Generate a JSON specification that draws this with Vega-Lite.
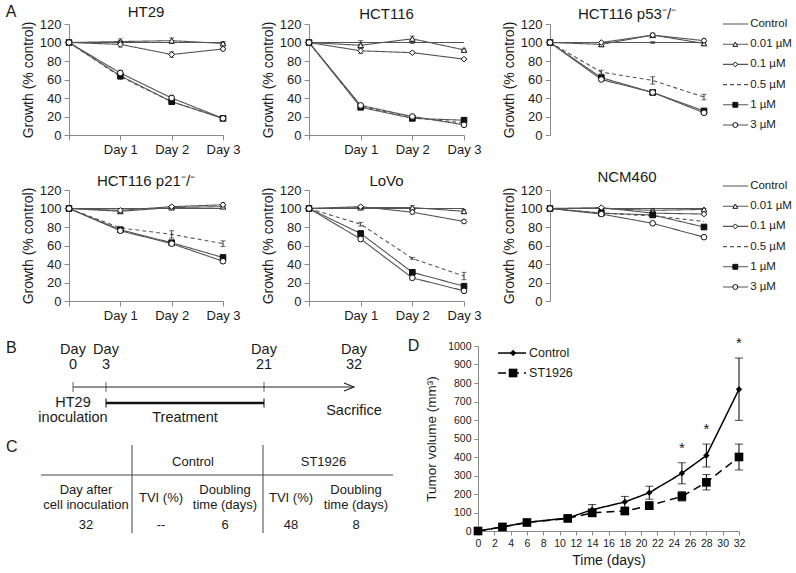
{
"$schema":"https://vega.github.io/schema/vega-lite/v6.json",
"padding":{"left":5,"right":5,"top":3,"bottom":5},
"spacing":14,
"resolve":{"scale":{"shape":"independent","fill":"independent","strokeDash":"independent","size":"independent"}},
"config":{
 "font":"Liberation Sans",
 "view":{"stroke":null},
 "axis":{"grid":false,"domainColor":"#8a8a8a","tickColor":"#8a8a8a","labelColor":"#1a1a1a","titleColor":"#1a1a1a","titleFontWeight":"normal","labelFlush":false,"labelOverlap":false},
 "title":{"fontWeight":"normal","color":"#1a1a1a","fontSize":15},
 "text":{"color":"#1a1a1a"}
},
"datasets":{
 "series":[{"series":"Control"},{"series":"0.01 µM"},{"series":"0.1 µM"},{"series":"0.5 µM"},{"series":"1 µM"},{"series":"3 µM"}],
 "growth":[
  {"cell":"HT29","series":"Control","day":0,"value":100},{"cell":"HT29","series":"Control","day":1,"value":100,"err":2},{"cell":"HT29","series":"Control","day":2,"value":100},{"cell":"HT29","series":"Control","day":3,"value":100,"err":1},
  {"cell":"HT29","series":"0.01 µM","day":0,"value":100},{"cell":"HT29","series":"0.01 µM","day":1,"value":101,"err":3},{"cell":"HT29","series":"0.01 µM","day":2,"value":102,"err":3},{"cell":"HT29","series":"0.01 µM","day":3,"value":99,"err":1},
  {"cell":"HT29","series":"0.1 µM","day":0,"value":100},{"cell":"HT29","series":"0.1 µM","day":1,"value":98,"err":3},{"cell":"HT29","series":"0.1 µM","day":2,"value":87,"err":3},{"cell":"HT29","series":"0.1 µM","day":3,"value":93,"err":2},
  {"cell":"HT29","series":"0.5 µM","day":0,"value":100},{"cell":"HT29","series":"0.5 µM","day":1,"value":63},{"cell":"HT29","series":"0.5 µM","day":2,"value":36},{"cell":"HT29","series":"0.5 µM","day":3,"value":18},
  {"cell":"HT29","series":"1 µM","day":0,"value":100},{"cell":"HT29","series":"1 µM","day":1,"value":64,"err":4},{"cell":"HT29","series":"1 µM","day":2,"value":36,"err":3},{"cell":"HT29","series":"1 µM","day":3,"value":18,"err":1},
  {"cell":"HT29","series":"3 µM","day":0,"value":100},{"cell":"HT29","series":"3 µM","day":1,"value":67,"err":3},{"cell":"HT29","series":"3 µM","day":2,"value":40,"err":3},{"cell":"HT29","series":"3 µM","day":3,"value":18,"err":1},

  {"cell":"HCT116","series":"Control","day":0,"value":100},{"cell":"HCT116","series":"Control","day":1,"value":100,"err":2},{"cell":"HCT116","series":"Control","day":2,"value":100,"err":1},{"cell":"HCT116","series":"Control","day":3,"value":100},
  {"cell":"HCT116","series":"0.01 µM","day":0,"value":100},{"cell":"HCT116","series":"0.01 µM","day":1,"value":97,"err":3},{"cell":"HCT116","series":"0.01 µM","day":2,"value":104,"err":3},{"cell":"HCT116","series":"0.01 µM","day":3,"value":92,"err":1},
  {"cell":"HCT116","series":"0.1 µM","day":0,"value":100},{"cell":"HCT116","series":"0.1 µM","day":1,"value":91,"err":3},{"cell":"HCT116","series":"0.1 µM","day":2,"value":89,"err":1},{"cell":"HCT116","series":"0.1 µM","day":3,"value":82,"err":1},
  {"cell":"HCT116","series":"0.5 µM","day":0,"value":100},{"cell":"HCT116","series":"0.5 µM","day":1,"value":31},{"cell":"HCT116","series":"0.5 µM","day":2,"value":19},{"cell":"HCT116","series":"0.5 µM","day":3,"value":13},
  {"cell":"HCT116","series":"1 µM","day":0,"value":100},{"cell":"HCT116","series":"1 µM","day":1,"value":30,"err":1},{"cell":"HCT116","series":"1 µM","day":2,"value":18,"err":1},{"cell":"HCT116","series":"1 µM","day":3,"value":16,"err":1},
  {"cell":"HCT116","series":"3 µM","day":0,"value":100},{"cell":"HCT116","series":"3 µM","day":1,"value":32,"err":1},{"cell":"HCT116","series":"3 µM","day":2,"value":20,"err":1},{"cell":"HCT116","series":"3 µM","day":3,"value":11,"err":1},

  {"cell":"HCT116 p53-/-","series":"Control","day":0,"value":100},{"cell":"HCT116 p53-/-","series":"Control","day":1,"value":100},{"cell":"HCT116 p53-/-","series":"Control","day":2,"value":100,"err":1},{"cell":"HCT116 p53-/-","series":"Control","day":3,"value":100},
  {"cell":"HCT116 p53-/-","series":"0.01 µM","day":0,"value":100},{"cell":"HCT116 p53-/-","series":"0.01 µM","day":1,"value":98,"err":2},{"cell":"HCT116 p53-/-","series":"0.01 µM","day":2,"value":108,"err":2},{"cell":"HCT116 p53-/-","series":"0.01 µM","day":3,"value":99,"err":2},
  {"cell":"HCT116 p53-/-","series":"0.1 µM","day":0,"value":100},{"cell":"HCT116 p53-/-","series":"0.1 µM","day":1,"value":100,"err":1},{"cell":"HCT116 p53-/-","series":"0.1 µM","day":2,"value":108,"err":2},{"cell":"HCT116 p53-/-","series":"0.1 µM","day":3,"value":102,"err":2},
  {"cell":"HCT116 p53-/-","series":"0.5 µM","day":0,"value":100},{"cell":"HCT116 p53-/-","series":"0.5 µM","day":1,"value":68,"err":2},{"cell":"HCT116 p53-/-","series":"0.5 µM","day":2,"value":59,"err":4},{"cell":"HCT116 p53-/-","series":"0.5 µM","day":3,"value":41,"err":3},
  {"cell":"HCT116 p53-/-","series":"1 µM","day":0,"value":100},{"cell":"HCT116 p53-/-","series":"1 µM","day":1,"value":62,"err":2},{"cell":"HCT116 p53-/-","series":"1 µM","day":2,"value":46,"err":2},{"cell":"HCT116 p53-/-","series":"1 µM","day":3,"value":26,"err":1},
  {"cell":"HCT116 p53-/-","series":"3 µM","day":0,"value":100},{"cell":"HCT116 p53-/-","series":"3 µM","day":1,"value":60,"err":1},{"cell":"HCT116 p53-/-","series":"3 µM","day":2,"value":46,"err":2},{"cell":"HCT116 p53-/-","series":"3 µM","day":3,"value":24,"err":1},

  {"cell":"HCT116 p21-/-","series":"Control","day":0,"value":100},{"cell":"HCT116 p21-/-","series":"Control","day":1,"value":100},{"cell":"HCT116 p21-/-","series":"Control","day":2,"value":100},{"cell":"HCT116 p21-/-","series":"Control","day":3,"value":100},
  {"cell":"HCT116 p21-/-","series":"0.01 µM","day":0,"value":100},{"cell":"HCT116 p21-/-","series":"0.01 µM","day":1,"value":97,"err":2},{"cell":"HCT116 p21-/-","series":"0.01 µM","day":2,"value":101,"err":2},{"cell":"HCT116 p21-/-","series":"0.01 µM","day":3,"value":102,"err":1},
  {"cell":"HCT116 p21-/-","series":"0.1 µM","day":0,"value":100},{"cell":"HCT116 p21-/-","series":"0.1 µM","day":1,"value":98,"err":2},{"cell":"HCT116 p21-/-","series":"0.1 µM","day":2,"value":102,"err":1},{"cell":"HCT116 p21-/-","series":"0.1 µM","day":3,"value":104,"err":2},
  {"cell":"HCT116 p21-/-","series":"0.5 µM","day":0,"value":100},{"cell":"HCT116 p21-/-","series":"0.5 µM","day":1,"value":79,"err":1},{"cell":"HCT116 p21-/-","series":"0.5 µM","day":2,"value":72,"err":4},{"cell":"HCT116 p21-/-","series":"0.5 µM","day":3,"value":62,"err":3},
  {"cell":"HCT116 p21-/-","series":"1 µM","day":0,"value":100},{"cell":"HCT116 p21-/-","series":"1 µM","day":1,"value":77,"err":2},{"cell":"HCT116 p21-/-","series":"1 µM","day":2,"value":63,"err":2},{"cell":"HCT116 p21-/-","series":"1 µM","day":3,"value":47,"err":3},
  {"cell":"HCT116 p21-/-","series":"3 µM","day":0,"value":100},{"cell":"HCT116 p21-/-","series":"3 µM","day":1,"value":76,"err":2},{"cell":"HCT116 p21-/-","series":"3 µM","day":2,"value":62,"err":2},{"cell":"HCT116 p21-/-","series":"3 µM","day":3,"value":43,"err":2},

  {"cell":"LoVo","series":"Control","day":0,"value":100},{"cell":"LoVo","series":"Control","day":1,"value":100},{"cell":"LoVo","series":"Control","day":2,"value":100},{"cell":"LoVo","series":"Control","day":3,"value":100},
  {"cell":"LoVo","series":"0.01 µM","day":0,"value":100},{"cell":"LoVo","series":"0.01 µM","day":1,"value":101,"err":1},{"cell":"LoVo","series":"0.01 µM","day":2,"value":101,"err":2},{"cell":"LoVo","series":"0.01 µM","day":3,"value":97,"err":2},
  {"cell":"LoVo","series":"0.1 µM","day":0,"value":100},{"cell":"LoVo","series":"0.1 µM","day":1,"value":102,"err":1},{"cell":"LoVo","series":"0.1 µM","day":2,"value":96,"err":2},{"cell":"LoVo","series":"0.1 µM","day":3,"value":86,"err":2},
  {"cell":"LoVo","series":"0.5 µM","day":0,"value":100},{"cell":"LoVo","series":"0.5 µM","day":1,"value":83,"err":2},{"cell":"LoVo","series":"0.5 µM","day":2,"value":46,"err":1},{"cell":"LoVo","series":"0.5 µM","day":3,"value":27,"err":4},
  {"cell":"LoVo","series":"1 µM","day":0,"value":100},{"cell":"LoVo","series":"1 µM","day":1,"value":73,"err":1},{"cell":"LoVo","series":"1 µM","day":2,"value":31,"err":2},{"cell":"LoVo","series":"1 µM","day":3,"value":16,"err":1},
  {"cell":"LoVo","series":"3 µM","day":0,"value":100},{"cell":"LoVo","series":"3 µM","day":1,"value":67,"err":1},{"cell":"LoVo","series":"3 µM","day":2,"value":25,"err":1},{"cell":"LoVo","series":"3 µM","day":3,"value":11,"err":1},

  {"cell":"NCM460","series":"Control","day":0,"value":100},{"cell":"NCM460","series":"Control","day":1,"value":100},{"cell":"NCM460","series":"Control","day":2,"value":100},{"cell":"NCM460","series":"Control","day":3,"value":100},
  {"cell":"NCM460","series":"0.01 µM","day":0,"value":100},{"cell":"NCM460","series":"0.01 µM","day":1,"value":100,"err":1},{"cell":"NCM460","series":"0.01 µM","day":2,"value":98,"err":1},{"cell":"NCM460","series":"0.01 µM","day":3,"value":99,"err":1},
  {"cell":"NCM460","series":"0.1 µM","day":0,"value":100},{"cell":"NCM460","series":"0.1 µM","day":1,"value":101,"err":1},{"cell":"NCM460","series":"0.1 µM","day":2,"value":95,"err":1},{"cell":"NCM460","series":"0.1 µM","day":3,"value":94,"err":1},
  {"cell":"NCM460","series":"0.5 µM","day":0,"value":100},{"cell":"NCM460","series":"0.5 µM","day":1,"value":95},{"cell":"NCM460","series":"0.5 µM","day":2,"value":92},{"cell":"NCM460","series":"0.5 µM","day":3,"value":86},
  {"cell":"NCM460","series":"1 µM","day":0,"value":100},{"cell":"NCM460","series":"1 µM","day":1,"value":95,"err":1},{"cell":"NCM460","series":"1 µM","day":2,"value":93,"err":1},{"cell":"NCM460","series":"1 µM","day":3,"value":80,"err":1},
  {"cell":"NCM460","series":"3 µM","day":0,"value":100},{"cell":"NCM460","series":"3 µM","day":1,"value":94,"err":1},{"cell":"NCM460","series":"3 µM","day":2,"value":84,"err":1},{"cell":"NCM460","series":"3 µM","day":3,"value":69,"err":1}
 ],
 "tumor":[
  {"group":"Control","day":0,"mean":0,"lo":0,"hi":0},{"group":"Control","day":3,"mean":22,"lo":18,"hi":26},{"group":"Control","day":6,"mean":47,"lo":42,"hi":52},{"group":"Control","day":11,"mean":70,"lo":64,"hi":76},{"group":"Control","day":14,"mean":115,"lo":88,"hi":143},{"group":"Control","day":18,"mean":157,"lo":128,"hi":187},{"group":"Control","day":21,"mean":207,"lo":172,"hi":242},{"group":"Control","day":25,"mean":312,"lo":255,"hi":369,"sig":true},{"group":"Control","day":28,"mean":408,"lo":346,"hi":470,"sig":true},{"group":"Control","day":32,"mean":766,"lo":598,"hi":935,"sig":true},
  {"group":"ST1926","day":0,"mean":0,"lo":0,"hi":0},{"group":"ST1926","day":3,"mean":22,"lo":18,"hi":26},{"group":"ST1926","day":6,"mean":46,"lo":41,"hi":51},{"group":"ST1926","day":11,"mean":68,"lo":62,"hi":74},{"group":"ST1926","day":14,"mean":98,"lo":86,"hi":110},{"group":"ST1926","day":18,"mean":108,"lo":98,"hi":118},{"group":"ST1926","day":21,"mean":137,"lo":117,"hi":158},{"group":"ST1926","day":25,"mean":187,"lo":162,"hi":213},{"group":"ST1926","day":28,"mean":263,"lo":222,"hi":305},{"group":"ST1926","day":32,"mean":400,"lo":330,"hi":470}
 ],
 "events":[{"day":0,"head":"Day\n0","note":"HT29\ninoculation"},{"day":3,"head":"Day\n3"},{"day":21,"head":"Day\n21"},{"day":32,"head":"Day\n32","note":"Sacrifice"}],
 "treat":[{"start":3,"end":21,"label":"Treatment"}],
 "table":[
  {"row":0,"col":1.5,"text":"Control"},{"row":0,"col":3.5,"text":"ST1926"},
  {"row":1,"col":0,"text":"Day after\ncell inoculation"},{"row":1,"col":1,"text":"TVI (%)"},{"row":1,"col":2,"text":"Doubling\ntime (days)"},{"row":1,"col":3,"text":"TVI (%)"},{"row":1,"col":4,"text":"Doubling\ntime (days)"},
  {"row":2,"col":0,"text":"32"},{"row":2,"col":1,"text":"--"},{"row":2,"col":2,"text":"6"},{"row":2,"col":3,"text":"48"},{"row":2,"col":4,"text":"8"}
 ]
},
"vconcat":[
 {"columns":3,"bounds":"flush","spacing":{"row":55,"column":86},
  "concat":[
   {"width":154,"height":111,"title":{"text":"HT29","offset":-16},
    "layer":[
     {"data":{"name":"growth"},"transform":[{"filter":"datum.cell == 'HT29'"}],
      "encoding":{
       "x":{"field":"day","type":"quantitative","scale":{"domain":[0,3],"nice":false},"axis":{"values":[0,1,2,3],"labelExpr":"datum.value == 0 ? '' : 'Day ' + datum.value","title":null,"labelFontSize":13,"tickSize":5,"labelPadding":3}},
       "y":{"field":"value","type":"quantitative","scale":{"domain":[0,120],"nice":false},"axis":{"values":[0,20,40,60,80,100,120],"title":"Growth (% control)","titleFontSize":14,"labelFontSize":13,"tickSize":5,"labelPadding":3,"titlePadding":4}}},
      "layer":[
       {"mark":{"type":"line","color":"#555555","strokeWidth":1.1},"encoding":{"strokeDash":{"field":"series","type":"nominal","scale":{"domain":["Control","0.01 µM","0.1 µM","0.5 µM","1 µM","3 µM"],"range":[[1,0],[1,0],[1,0],[4,3],[1,0],[1,0]]},"legend":null}}},
       {"transform":[{"filter":"datum.err > 0"}],"mark":{"type":"errorbar","ticks":true,"size":5,"thickness":1,"color":"#333333"},"encoding":{"yError":{"field":"err"}}},
       {"transform":[{"filter":"datum.series != 'Control' && datum.series != '0.5 µM'"}],"mark":{"type":"point","filled":true,"size":32,"stroke":"#111111","strokeWidth":1,"opacity":1},"encoding":{"shape":{"field":"series","type":"nominal","scale":{"domain":["0.01 µM","0.1 µM","1 µM","3 µM"],"range":["triangle-up","diamond","square","circle"]},"legend":null},"fill":{"field":"series","type":"nominal","scale":{"domain":["0.01 µM","0.1 µM","1 µM","3 µM"],"range":["#ffffff","#ffffff","#111111","#ffffff"]},"legend":null}}}
      ]},
     {"data":{"values":[{"t":"A"}]},"mark":{"type":"text","fontSize":16,"align":"left","baseline":"middle","color":"#1a1a1a"},"encoding":{
       "x":{"datum":-1.23,"type":"quantitative","scale":{"domain":[0,3],"nice":false},"axis":{"values":[0,1,2,3],"labelExpr":"datum.value == 0 ? '' : 'Day ' + datum.value","title":null,"labelFontSize":13,"tickSize":5,"labelPadding":3}},
       "y":{"datum":133,"type":"quantitative","scale":{"domain":[0,120],"nice":false},"axis":{"values":[0,20,40,60,80,100,120],"title":"Growth (% control)","titleFontSize":14,"labelFontSize":13,"tickSize":5,"labelPadding":3,"titlePadding":4}},
       "text":{"field":"t"}}}
    ]},
   {"width":155,"height":111,"title":{"text":"HCT116","offset":-4},
    "layer":[
     {"data":{"name":"growth"},"transform":[{"filter":"datum.cell == 'HCT116'"}],
      "encoding":{
       "x":{"field":"day","type":"quantitative","scale":{"domain":[0,3],"nice":false},"axis":{"values":[0,1,2,3],"labelExpr":"datum.value == 0 ? '' : 'Day ' + datum.value","title":null,"labelFontSize":13,"tickSize":5,"labelPadding":3}},
       "y":{"field":"value","type":"quantitative","scale":{"domain":[0,120],"nice":false},"axis":{"values":[0,20,40,60,80,100,120],"title":"Growth (% control)","titleFontSize":14,"labelFontSize":13,"tickSize":5,"labelPadding":3,"titlePadding":4}}},
      "layer":[
       {"mark":{"type":"line","color":"#555555","strokeWidth":1.1},"encoding":{"strokeDash":{"field":"series","type":"nominal","scale":{"domain":["Control","0.01 µM","0.1 µM","0.5 µM","1 µM","3 µM"],"range":[[1,0],[1,0],[1,0],[4,3],[1,0],[1,0]]},"legend":null}}},
       {"transform":[{"filter":"datum.err > 0"}],"mark":{"type":"errorbar","ticks":true,"size":5,"thickness":1,"color":"#333333"},"encoding":{"yError":{"field":"err"}}},
       {"transform":[{"filter":"datum.series != 'Control' && datum.series != '0.5 µM'"}],"mark":{"type":"point","filled":true,"size":32,"stroke":"#111111","strokeWidth":1,"opacity":1},"encoding":{"shape":{"field":"series","type":"nominal","scale":{"domain":["0.01 µM","0.1 µM","1 µM","3 µM"],"range":["triangle-up","diamond","square","circle"]},"legend":null},"fill":{"field":"series","type":"nominal","scale":{"domain":["0.01 µM","0.1 µM","1 µM","3 µM"],"range":["#ffffff","#ffffff","#111111","#ffffff"]},"legend":null}}}
      ]}
    ]},
   {"width":154,"height":111,"title":{"text":"HCT116 p53⁻/⁻","offset":-4},
    "resolve":{"scale":{"y":"independent"}},
    "layer":[
     {"data":{"name":"growth"},"transform":[{"filter":"datum.cell == 'HCT116 p53-/-'"}],
      "encoding":{
       "x":{"field":"day","type":"quantitative","scale":{"domain":[0,3],"nice":false},"axis":{"values":[0,1,2,3],"labelExpr":"datum.value == 0 ? '' : 'Day ' + datum.value","title":null,"labelFontSize":13,"tickSize":5,"labelPadding":3}},
       "y":{"field":"value","type":"quantitative","scale":{"domain":[0,120],"nice":false},"axis":{"values":[0,20,40,60,80,100,120],"title":"Growth (% control)","titleFontSize":14,"labelFontSize":13,"tickSize":5,"labelPadding":3,"titlePadding":4}}},
      "layer":[
       {"mark":{"type":"line","color":"#555555","strokeWidth":1.1},"encoding":{"strokeDash":{"field":"series","type":"nominal","scale":{"domain":["Control","0.01 µM","0.1 µM","0.5 µM","1 µM","3 µM"],"range":[[1,0],[1,0],[1,0],[4,3],[1,0],[1,0]]},"legend":null}}},
       {"transform":[{"filter":"datum.err > 0"}],"mark":{"type":"errorbar","ticks":true,"size":5,"thickness":1,"color":"#333333"},"encoding":{"yError":{"field":"err"}}},
       {"transform":[{"filter":"datum.series != 'Control' && datum.series != '0.5 µM'"}],"mark":{"type":"point","filled":true,"size":32,"stroke":"#111111","strokeWidth":1,"opacity":1},"encoding":{"shape":{"field":"series","type":"nominal","scale":{"domain":["0.01 µM","0.1 µM","1 µM","3 µM"],"range":["triangle-up","diamond","square","circle"]},"legend":null},"fill":{"field":"series","type":"nominal","scale":{"domain":["0.01 µM","0.1 µM","1 µM","3 µM"],"range":["#ffffff","#ffffff","#111111","#ffffff"]},"legend":null}}}
      ]},
     {"data":{"name":"series"},
      "encoding":{"y":{"field":"series","type":"nominal","scale":{"type":"point","domain":["Control","0.01 µM","0.1 µM","0.5 µM","1 µM","3 µM"],"range":[0,101],"padding":0},"axis":null}},
      "layer":[
       {"mark":{"type":"rule","color":"#555555","strokeWidth":1.1},"encoding":{"x":{"datum":3.37,"axis":null},"x2":{"datum":3.86},"strokeDash":{"field":"series","type":"nominal","scale":{"domain":["Control","0.01 µM","0.1 µM","0.5 µM","1 µM","3 µM"],"range":[[1,0],[1,0],[1,0],[4,3],[1,0],[1,0]]},"legend":null}}},
       {"transform":[{"filter":"datum.series != 'Control' && datum.series != '0.5 µM'"}],"mark":{"type":"point","filled":true,"size":24,"stroke":"#111111","strokeWidth":1,"opacity":1},"encoding":{"x":{"datum":3.61,"axis":null},"shape":{"field":"series","type":"nominal","scale":{"domain":["0.01 µM","0.1 µM","1 µM","3 µM"],"range":["triangle-up","diamond","square","circle"]},"legend":null},"fill":{"field":"series","type":"nominal","scale":{"domain":["0.01 µM","0.1 µM","1 µM","3 µM"],"range":["#ffffff","#ffffff","#111111","#ffffff"]},"legend":null}}},
       {"mark":{"type":"text","align":"left","baseline":"middle","fontSize":11.5,"dx":2,"color":"#1a1a1a"},"encoding":{"x":{"datum":3.86,"axis":null},"text":{"field":"series"}}}
      ]}
    ]},
   {"width":154,"height":111,"title":{"text":"HCT116 p21⁻/⁻","offset":-5},
    "layer":[
     {"data":{"name":"growth"},"transform":[{"filter":"datum.cell == 'HCT116 p21-/-'"}],
      "encoding":{
       "x":{"field":"day","type":"quantitative","scale":{"domain":[0,3],"nice":false},"axis":{"values":[0,1,2,3],"labelExpr":"datum.value == 0 ? '' : 'Day ' + datum.value","title":null,"labelFontSize":13,"tickSize":5,"labelPadding":3}},
       "y":{"field":"value","type":"quantitative","scale":{"domain":[0,120],"nice":false},"axis":{"values":[0,20,40,60,80,100,120],"title":"Growth (% control)","titleFontSize":14,"labelFontSize":13,"tickSize":5,"labelPadding":3,"titlePadding":4}}},
      "layer":[
       {"mark":{"type":"line","color":"#555555","strokeWidth":1.1},"encoding":{"strokeDash":{"field":"series","type":"nominal","scale":{"domain":["Control","0.01 µM","0.1 µM","0.5 µM","1 µM","3 µM"],"range":[[1,0],[1,0],[1,0],[4,3],[1,0],[1,0]]},"legend":null}}},
       {"transform":[{"filter":"datum.err > 0"}],"mark":{"type":"errorbar","ticks":true,"size":5,"thickness":1,"color":"#333333"},"encoding":{"yError":{"field":"err"}}},
       {"transform":[{"filter":"datum.series != 'Control' && datum.series != '0.5 µM'"}],"mark":{"type":"point","filled":true,"size":32,"stroke":"#111111","strokeWidth":1,"opacity":1},"encoding":{"shape":{"field":"series","type":"nominal","scale":{"domain":["0.01 µM","0.1 µM","1 µM","3 µM"],"range":["triangle-up","diamond","square","circle"]},"legend":null},"fill":{"field":"series","type":"nominal","scale":{"domain":["0.01 µM","0.1 µM","1 µM","3 µM"],"range":["#ffffff","#ffffff","#111111","#ffffff"]},"legend":null}}}
      ]}
    ]},
   {"width":155,"height":111,"title":{"text":"LoVo","offset":-5},
    "layer":[
     {"data":{"name":"growth"},"transform":[{"filter":"datum.cell == 'LoVo'"}],
      "encoding":{
       "x":{"field":"day","type":"quantitative","scale":{"domain":[0,3],"nice":false},"axis":{"values":[0,1,2,3],"labelExpr":"datum.value == 0 ? '' : 'Day ' + datum.value","title":null,"labelFontSize":13,"tickSize":5,"labelPadding":3}},
       "y":{"field":"value","type":"quantitative","scale":{"domain":[0,120],"nice":false},"axis":{"values":[0,20,40,60,80,100,120],"title":"Growth (% control)","titleFontSize":14,"labelFontSize":13,"tickSize":5,"labelPadding":3,"titlePadding":4}}},
      "layer":[
       {"mark":{"type":"line","color":"#555555","strokeWidth":1.1},"encoding":{"strokeDash":{"field":"series","type":"nominal","scale":{"domain":["Control","0.01 µM","0.1 µM","0.5 µM","1 µM","3 µM"],"range":[[1,0],[1,0],[1,0],[4,3],[1,0],[1,0]]},"legend":null}}},
       {"transform":[{"filter":"datum.err > 0"}],"mark":{"type":"errorbar","ticks":true,"size":5,"thickness":1,"color":"#333333"},"encoding":{"yError":{"field":"err"}}},
       {"transform":[{"filter":"datum.series != 'Control' && datum.series != '0.5 µM'"}],"mark":{"type":"point","filled":true,"size":32,"stroke":"#111111","strokeWidth":1,"opacity":1},"encoding":{"shape":{"field":"series","type":"nominal","scale":{"domain":["0.01 µM","0.1 µM","1 µM","3 µM"],"range":["triangle-up","diamond","square","circle"]},"legend":null},"fill":{"field":"series","type":"nominal","scale":{"domain":["0.01 µM","0.1 µM","1 µM","3 µM"],"range":["#ffffff","#ffffff","#111111","#ffffff"]},"legend":null}}}
      ]}
    ]},
   {"width":154,"height":111,"title":{"text":"NCM460","offset":-5},
    "resolve":{"scale":{"y":"independent"}},
    "layer":[
     {"data":{"name":"growth"},"transform":[{"filter":"datum.cell == 'NCM460'"}],
      "encoding":{
       "x":{"field":"day","type":"quantitative","scale":{"domain":[0,3],"nice":false},"axis":{"values":[0,1,2,3],"labelExpr":"datum.value == 0 ? '' : 'Day ' + datum.value","title":null,"labelFontSize":13,"tickSize":5,"labelPadding":3}},
       "y":{"field":"value","type":"quantitative","scale":{"domain":[0,120],"nice":false},"axis":{"values":[0,20,40,60,80,100,120],"title":"Growth (% control)","titleFontSize":14,"labelFontSize":13,"tickSize":5,"labelPadding":3,"titlePadding":4}}},
      "layer":[
       {"mark":{"type":"line","color":"#555555","strokeWidth":1.1},"encoding":{"strokeDash":{"field":"series","type":"nominal","scale":{"domain":["Control","0.01 µM","0.1 µM","0.5 µM","1 µM","3 µM"],"range":[[1,0],[1,0],[1,0],[4,3],[1,0],[1,0]]},"legend":null}}},
       {"transform":[{"filter":"datum.err > 0"}],"mark":{"type":"errorbar","ticks":true,"size":5,"thickness":1,"color":"#333333"},"encoding":{"yError":{"field":"err"}}},
       {"transform":[{"filter":"datum.series != 'Control' && datum.series != '0.5 µM'"}],"mark":{"type":"point","filled":true,"size":32,"stroke":"#111111","strokeWidth":1,"opacity":1},"encoding":{"shape":{"field":"series","type":"nominal","scale":{"domain":["0.01 µM","0.1 µM","1 µM","3 µM"],"range":["triangle-up","diamond","square","circle"]},"legend":null},"fill":{"field":"series","type":"nominal","scale":{"domain":["0.01 µM","0.1 µM","1 µM","3 µM"],"range":["#ffffff","#ffffff","#111111","#ffffff"]},"legend":null}}}
      ]},
     {"data":{"name":"series"},
      "encoding":{"y":{"field":"series","type":"nominal","scale":{"type":"point","domain":["Control","0.01 µM","0.1 µM","0.5 µM","1 µM","3 µM"],"range":[-4,97],"padding":0},"axis":null}},
      "layer":[
       {"mark":{"type":"rule","color":"#555555","strokeWidth":1.1},"encoding":{"x":{"datum":3.37,"axis":null},"x2":{"datum":3.86},"strokeDash":{"field":"series","type":"nominal","scale":{"domain":["Control","0.01 µM","0.1 µM","0.5 µM","1 µM","3 µM"],"range":[[1,0],[1,0],[1,0],[4,3],[1,0],[1,0]]},"legend":null}}},
       {"transform":[{"filter":"datum.series != 'Control' && datum.series != '0.5 µM'"}],"mark":{"type":"point","filled":true,"size":24,"stroke":"#111111","strokeWidth":1,"opacity":1},"encoding":{"x":{"datum":3.61,"axis":null},"shape":{"field":"series","type":"nominal","scale":{"domain":["0.01 µM","0.1 µM","1 µM","3 µM"],"range":["triangle-up","diamond","square","circle"]},"legend":null},"fill":{"field":"series","type":"nominal","scale":{"domain":["0.01 µM","0.1 µM","1 µM","3 µM"],"range":["#ffffff","#ffffff","#111111","#ffffff"]},"legend":null}}},
       {"mark":{"type":"text","align":"left","baseline":"middle","fontSize":11.5,"dx":2,"color":"#1a1a1a"},"encoding":{"x":{"datum":3.86,"axis":null},"text":{"field":"series"}}}
      ]}
    ]}
  ]},
 {"bounds":"flush","spacing":82,
  "hconcat":[
   {"width":327,"height":194,
    "resolve":{"scale":{"x":"independent","y":"independent"}},
    "layer":[
     {"layer":[
       {"data":{"values":[{"start":0,"end":32}]},"mark":{"type":"rule","color":"#222222","strokeWidth":1},"encoding":{"x":{"field":"start","type":"quantitative","scale":{"domain":[-6,0,3,21,32],"range":[-63,4,37,195,285]},"axis":null},"x2":{"field":"end"},"y":{"datum":1,"type":"quantitative","scale":{"domain":[-1,0,1,2,3],"range":[1.5,11.5,41,57,72]},"axis":null}}},
       {"data":{"name":"events"},"transform":[{"filter":"datum.day < 32"}],"mark":{"type":"tick","orient":"vertical","size":10,"thickness":1,"color":"#222222"},"encoding":{"x":{"field":"day","type":"quantitative","scale":{"domain":[-6,0,3,21,32],"range":[-63,4,37,195,285]},"axis":null},"y":{"datum":1,"type":"quantitative","scale":{"domain":[-1,0,1,2,3],"range":[1.5,11.5,41,57,72]},"axis":null}}},
       {"data":{"name":"events"},"transform":[{"filter":"datum.day == 32"}],"mark":{"type":"point","shape":"M-2,-0.8L0,0L-2,0.8","size":100,"filled":false,"stroke":"#222222","strokeWidth":1.1,"opacity":1},"encoding":{"x":{"field":"day","type":"quantitative","scale":{"domain":[-6,0,3,21,32],"range":[-63,4,37,195,285]},"axis":null},"y":{"datum":1,"type":"quantitative","scale":{"domain":[-1,0,1,2,3],"range":[1.5,11.5,41,57,72]},"axis":null}}},
       {"data":{"name":"events"},"mark":{"type":"text","fontSize":14.5,"lineBreak":"\n","lineHeight":15,"align":"center","baseline":"middle","dy":-7.5,"color":"#1a1a1a"},"encoding":{"x":{"field":"day","type":"quantitative","scale":{"domain":[-6,0,3,21,32],"range":[-63,4,37,195,285]},"axis":null},"y":{"datum":0,"type":"quantitative","scale":{"domain":[-1,0,1,2,3],"range":[1.5,11.5,41,57,72]},"axis":null},"text":{"field":"head"}}},
       {"data":{"name":"events"},"transform":[{"filter":"datum.note && indexof(datum.note, '\\n') >= 0"}],"mark":{"type":"text","fontSize":14.5,"lineBreak":"\n","lineHeight":15,"align":"center","baseline":"middle","dy":-7.5,"color":"#1a1a1a"},"encoding":{"x":{"field":"day","type":"quantitative","scale":{"domain":[-6,0,3,21,32],"range":[-63,4,37,195,285]},"axis":null},"y":{"datum":2.5,"type":"quantitative","scale":{"domain":[-1,0,1,2,3],"range":[1.5,11.5,41,57,72]},"axis":null},"text":{"field":"note"}}},
       {"data":{"name":"events"},"transform":[{"filter":"datum.note && indexof(datum.note, '\\n') < 0"}],"mark":{"type":"text","fontSize":14.5,"align":"center","baseline":"middle","color":"#1a1a1a"},"encoding":{"x":{"field":"day","type":"quantitative","scale":{"domain":[-6,0,3,21,32],"range":[-63,4,37,195,285]},"axis":null},"y":{"datum":2.5,"type":"quantitative","scale":{"domain":[-1,0,1,2,3],"range":[1.5,11.5,41,57,72]},"axis":null},"text":{"field":"note"}}},
       {"data":{"name":"treat"},"mark":{"type":"rule","color":"#111111","strokeWidth":2.5},"encoding":{"x":{"field":"start","type":"quantitative","scale":{"domain":[-6,0,3,21,32],"range":[-63,4,37,195,285]},"axis":null},"x2":{"field":"end"},"y":{"datum":2,"type":"quantitative","scale":{"domain":[-1,0,1,2,3],"range":[1.5,11.5,41,57,72]},"axis":null}}},
       {"data":{"name":"treat"},"mark":{"type":"tick","orient":"vertical","size":9,"thickness":1.5,"color":"#111111"},"encoding":{"x":{"field":"start","type":"quantitative","scale":{"domain":[-6,0,3,21,32],"range":[-63,4,37,195,285]},"axis":null},"y":{"datum":2,"type":"quantitative","scale":{"domain":[-1,0,1,2,3],"range":[1.5,11.5,41,57,72]},"axis":null}}},
       {"data":{"name":"treat"},"mark":{"type":"tick","orient":"vertical","size":9,"thickness":1.5,"color":"#111111"},"encoding":{"x":{"field":"end","type":"quantitative","scale":{"domain":[-6,0,3,21,32],"range":[-63,4,37,195,285]},"axis":null},"y":{"datum":2,"type":"quantitative","scale":{"domain":[-1,0,1,2,3],"range":[1.5,11.5,41,57,72]},"axis":null}}},
       {"data":{"name":"treat"},"mark":{"type":"text","fontSize":14.5,"align":"center","baseline":"middle","color":"#1a1a1a"},"encoding":{"x":{"datum":12,"type":"quantitative","scale":{"domain":[-6,0,3,21,32],"range":[-63,4,37,195,285]},"axis":null},"y":{"datum":3,"type":"quantitative","scale":{"domain":[-1,0,1,2,3],"range":[1.5,11.5,41,57,72]},"axis":null},"text":{"field":"label"}}},
       {"data":{"values":[{"t":"B"}]},"mark":{"type":"text","fontSize":16,"align":"left","baseline":"middle","color":"#1a1a1a"},"encoding":{"x":{"datum":-6,"type":"quantitative","scale":{"domain":[-6,0,3,21,32],"range":[-63,4,37,195,285]},"axis":null},"y":{"datum":-1,"type":"quantitative","scale":{"domain":[-1,0,1,2,3],"range":[1.5,11.5,41,57,72]},"axis":null},"text":{"field":"t"}}}
     ]},
     {"layer":[
       {"data":{"values":[{"a":-0.5,"b":4.5}]},"mark":{"type":"rule","color":"#444444","strokeWidth":1},"encoding":{"x":{"field":"a","type":"quantitative","scale":{"domain":[-1.5,-0.5,0,0.5,1,2,2.5,3,4,4.5],"range":[-63,-28,17,63,92,156,194,222,287,324]},"axis":null},"x2":{"field":"b"},"y":{"datum":0.5,"type":"quantitative","scale":{"domain":[-0.5,0,0.5,1,2,2.5],"range":[99,116,129,151.5,179,187]},"axis":null}}},
       {"data":{"values":[{"c":0.5},{"c":2.5}]},"mark":{"type":"rule","color":"#444444","strokeWidth":1},"encoding":{"x":{"field":"c","type":"quantitative","scale":{"domain":[-1.5,-0.5,0,0.5,1,2,2.5,3,4,4.5],"range":[-63,-28,17,63,92,156,194,222,287,324]},"axis":null},"y":{"datum":-0.5,"type":"quantitative","scale":{"domain":[-0.5,0,0.5,1,2,2.5],"range":[99,116,129,151.5,179,187]},"axis":null},"y2":{"datum":2.5}}},
       {"data":{"name":"table"},"transform":[{"filter":"indexof(datum.text, '\\n') < 0"}],"mark":{"type":"text","fontSize":13,"align":"center","baseline":"middle","color":"#1a1a1a"},"encoding":{"x":{"field":"col","type":"quantitative","scale":{"domain":[-1.5,-0.5,0,0.5,1,2,2.5,3,4,4.5],"range":[-63,-28,17,63,92,156,194,222,287,324]},"axis":null},"y":{"field":"row","type":"quantitative","scale":{"domain":[-0.5,0,0.5,1,2,2.5],"range":[99,116,129,151.5,179,187]},"axis":null},"text":{"field":"text"}}},
       {"data":{"name":"table"},"transform":[{"filter":"indexof(datum.text, '\\n') >= 0"}],"mark":{"type":"text","fontSize":13,"lineBreak":"\n","lineHeight":15,"align":"center","baseline":"middle","dy":-7.5,"color":"#1a1a1a"},"encoding":{"x":{"field":"col","type":"quantitative","scale":{"domain":[-1.5,-0.5,0,0.5,1,2,2.5,3,4,4.5],"range":[-63,-28,17,63,92,156,194,222,287,324]},"axis":null},"y":{"field":"row","type":"quantitative","scale":{"domain":[-0.5,0,0.5,1,2,2.5],"range":[99,116,129,151.5,179,187]},"axis":null},"text":{"field":"text"}}},
       {"data":{"values":[{"t":"C"}]},"mark":{"type":"text","fontSize":16,"align":"left","baseline":"middle","dy":2,"color":"#1a1a1a"},"encoding":{"x":{"datum":-1.5,"type":"quantitative","scale":{"domain":[-1.5,-0.5,0,0.5,1,2,2.5,3,4,4.5],"range":[-63,-28,17,63,92,156,194,222,287,324]},"axis":null},"y":{"datum":-0.5,"type":"quantitative","scale":{"domain":[-0.5,0,0.5,1,2,2.5],"range":[99,116,129,151.5,179,187]},"axis":null},"text":{"field":"t"}}}
     ]}
    ]},
   {"width":261,"height":185,
    "layer":[
     {"data":{"name":"tumor"},
      "encoding":{
       "x":{"field":"day","type":"quantitative","scale":{"domain":[0,32],"nice":false},"axis":{"values":[0,2,4,6,8,10,12,14,16,18,20,22,24,26,28,30,32],"title":"Time (days)","labelFontSize":10.5,"titleFontSize":14,"tickSize":4,"labelPadding":3,"titlePadding":5}},
       "y":{"field":"mean","type":"quantitative","scale":{"domain":[0,1000],"nice":false},"axis":{"values":[0,100,200,300,400,500,600,700,800,900,1000],"format":"d","title":"Tumor volume (mm³)","labelFontSize":10.5,"titleFontSize":13.5,"tickSize":4,"labelPadding":3,"titlePadding":9}}},
      "layer":[
       {"mark":{"type":"line","color":"#000000","strokeWidth":1.5},"encoding":{"strokeDash":{"field":"group","type":"nominal","scale":{"domain":["Control","ST1926"],"range":[[1,0],[8,5]]},"legend":null}}},
       {"transform":[{"filter":"datum.hi > datum.lo"}],"mark":{"type":"errorbar","ticks":true,"size":8,"thickness":1,"color":"#000000"},"encoding":{"y":{"field":"lo","type":"quantitative","scale":{"domain":[0,1000],"nice":false},"axis":{"values":[0,100,200,300,400,500,600,700,800,900,1000],"format":"d","title":"Tumor volume (mm³)","labelFontSize":10.5,"titleFontSize":13.5,"tickSize":4,"labelPadding":3,"titlePadding":9}},"y2":{"field":"hi"}}},
       {"mark":{"type":"point","filled":true,"opacity":1,"color":"#000000"},"encoding":{"shape":{"field":"group","type":"nominal","scale":{"domain":["Control","ST1926"],"range":["diamond","square"]},"legend":null},"size":{"field":"group","type":"ordinal","scale":{"domain":["Control","ST1926"],"range":[40,75]},"legend":null}}},
       {"transform":[{"filter":"datum.sig"}],"mark":{"type":"text","text":"*","fontSize":15,"dy":-15,"color":"#1a1a1a"},"encoding":{"y":{"field":"hi","type":"quantitative","scale":{"domain":[0,1000],"nice":false},"axis":{"values":[0,100,200,300,400,500,600,700,800,900,1000],"format":"d","title":"Tumor volume (mm³)","labelFontSize":10.5,"titleFontSize":13.5,"tickSize":4,"labelPadding":3,"titlePadding":9}}}}
      ]},
     {"data":{"values":[{"t":"D"}]},"mark":{"type":"text","fontSize":16,"align":"left","baseline":"middle","color":"#1a1a1a"},"encoding":{
       "x":{"datum":-8.6,"type":"quantitative","scale":{"domain":[0,32],"nice":false},"axis":{"values":[0,2,4,6,8,10,12,14,16,18,20,22,24,26,28,30,32],"title":"Time (days)","labelFontSize":10.5,"titleFontSize":14,"tickSize":4,"labelPadding":3,"titlePadding":5}},
       "y":{"datum":1000,"type":"quantitative","scale":{"domain":[0,1000],"nice":false},"axis":{"values":[0,100,200,300,400,500,600,700,800,900,1000],"format":"d","title":"Tumor volume (mm³)","labelFontSize":10.5,"titleFontSize":13.5,"tickSize":4,"labelPadding":3,"titlePadding":9}},
       "text":{"field":"t"}}},
     {"data":{"values":[{"group":"Control"}]},
      "encoding":{"y":{"datum":962,"type":"quantitative","scale":{"domain":[0,1000],"nice":false},"axis":{"values":[0,100,200,300,400,500,600,700,800,900,1000],"format":"d","title":"Tumor volume (mm³)","labelFontSize":10.5,"titleFontSize":13.5,"tickSize":4,"labelPadding":3,"titlePadding":9}}},
      "layer":[
       {"mark":{"type":"rule","color":"#000000","strokeWidth":1.5},"encoding":{"x":{"datum":2.45,"type":"quantitative","scale":{"domain":[0,32],"nice":false},"axis":{"values":[0,2,4,6,8,10,12,14,16,18,20,22,24,26,28,30,32],"title":"Time (days)","labelFontSize":10.5,"titleFontSize":14,"tickSize":4,"labelPadding":3,"titlePadding":5}},"x2":{"datum":5.89}}},
       {"mark":{"type":"point","shape":"diamond","size":40,"filled":true,"color":"#000000","opacity":1},"encoding":{"x":{"datum":4.3,"type":"quantitative","scale":{"domain":[0,32],"nice":false},"axis":{"values":[0,2,4,6,8,10,12,14,16,18,20,22,24,26,28,30,32],"title":"Time (days)","labelFontSize":10.5,"titleFontSize":14,"tickSize":4,"labelPadding":3,"titlePadding":5}}}},
       {"mark":{"type":"text","align":"left","baseline":"middle","fontSize":12.5,"dx":3,"color":"#1a1a1a"},"encoding":{"x":{"datum":5.89,"type":"quantitative","scale":{"domain":[0,32],"nice":false},"axis":{"values":[0,2,4,6,8,10,12,14,16,18,20,22,24,26,28,30,32],"title":"Time (days)","labelFontSize":10.5,"titleFontSize":14,"tickSize":4,"labelPadding":3,"titlePadding":5}},"text":{"field":"group"}}}
      ]},
     {"data":{"values":[{"group":"ST1926"}]},
      "encoding":{"y":{"datum":854,"type":"quantitative","scale":{"domain":[0,1000],"nice":false},"axis":{"values":[0,100,200,300,400,500,600,700,800,900,1000],"format":"d","title":"Tumor volume (mm³)","labelFontSize":10.5,"titleFontSize":13.5,"tickSize":4,"labelPadding":3,"titlePadding":9}}},
      "layer":[
       {"mark":{"type":"rule","color":"#000000","strokeWidth":1.5,"strokeDash":[8,5]},"encoding":{"x":{"datum":2.45,"type":"quantitative","scale":{"domain":[0,32],"nice":false},"axis":{"values":[0,2,4,6,8,10,12,14,16,18,20,22,24,26,28,30,32],"title":"Time (days)","labelFontSize":10.5,"titleFontSize":14,"tickSize":4,"labelPadding":3,"titlePadding":5}},"x2":{"datum":5.89}}},
       {"mark":{"type":"point","shape":"square","size":75,"filled":true,"color":"#000000","opacity":1},"encoding":{"x":{"datum":4.3,"type":"quantitative","scale":{"domain":[0,32],"nice":false},"axis":{"values":[0,2,4,6,8,10,12,14,16,18,20,22,24,26,28,30,32],"title":"Time (days)","labelFontSize":10.5,"titleFontSize":14,"tickSize":4,"labelPadding":3,"titlePadding":5}}}},
       {"mark":{"type":"text","align":"left","baseline":"middle","fontSize":12.5,"dx":3,"color":"#1a1a1a"},"encoding":{"x":{"datum":5.89,"type":"quantitative","scale":{"domain":[0,32],"nice":false},"axis":{"values":[0,2,4,6,8,10,12,14,16,18,20,22,24,26,28,30,32],"title":"Time (days)","labelFontSize":10.5,"titleFontSize":14,"tickSize":4,"labelPadding":3,"titlePadding":5}},"text":{"field":"group"}}}
      ]}
    ]}
  ]}
]
}
